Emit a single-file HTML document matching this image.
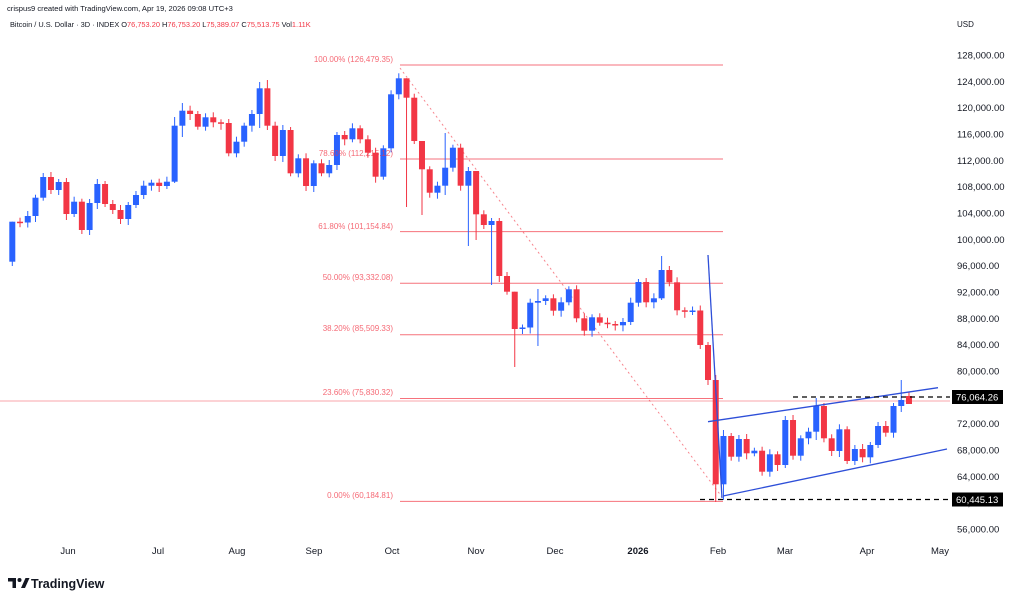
<!DOCTYPE html>
<html><head><meta charset="utf-8">
<style>
html,body{margin:0;padding:0;background:#fff;width:1018px;height:600px;overflow:hidden;font-family:"Liberation Sans",sans-serif;}
svg{position:absolute;left:0;top:0}
</style></head><body>
<svg id="s" width="1018" height="600" xmlns="http://www.w3.org/2000/svg" font-family="Liberation Sans, sans-serif">
<text x="7" y="11" font-size="7.6" fill="#131722">crispus9 created with TradingView.com, Apr 19, 2026 09:08 UTC+3</text>
<text x="10" y="27" font-size="7.4" fill="#131722">Bitcoin / U.S. Dollar · 3D · INDEX  O<tspan fill="#f23645">76,753.20</tspan>  H<tspan fill="#f23645">76,753.20</tspan>  L<tspan fill="#f23645">75,389.07</tspan>  C<tspan fill="#f23645">75,513.75</tspan>  Vol<tspan fill="#f23645">1.11K</tspan></text>
<text x="957" y="27" font-size="8" fill="#131722">USD</text>
<g id="g"></g>
<g font-size="8" fill="#f23645" fill-opacity="0.75" text-anchor="end">
<text x="393" y="62">100.00% (126,479.35)</text>
<text x="393" y="156">78.60% (112,215.12)</text>
<text x="393" y="229">61.80% (101,154.84)</text>
<text x="393" y="280">50.00% (93,332.08)</text>
<text x="393" y="331">38.20% (85,509.33)</text>
<text x="393" y="395">23.60% (75,830.32)</text>
<text x="393" y="498">0.00% (60,184.81)</text>
</g>
<g font-size="9.5" fill="#131722" text-anchor="middle">
<text x="68" y="554">Jun</text><text x="158" y="554">Jul</text><text x="237" y="554">Aug</text>
<text x="314" y="554">Sep</text><text x="392" y="554">Oct</text><text x="476" y="554">Nov</text>
<text x="555" y="554">Dec</text><text x="638" y="554" font-weight="bold">2026</text>
<text x="718" y="554">Feb</text><text x="785" y="554">Mar</text><text x="867" y="554">Apr</text><text x="940" y="554">May</text>
</g>
<g transform="translate(8,577)">
<path d="M0 1h8v10h-3.5V4.5H0z" fill="#131722"/>
<circle cx="11.5" cy="3" r="2" fill="#131722"/>
<path d="M13 11l4.5-10h4l-4.5 10z" fill="#131722"/>
</g>
<text x="31" y="588" font-size="12.5" font-weight="bold" fill="#131722">TradingView</text>
</svg>
<script>
var g=document.getElementById('g'),h='';
function Y(p){return 55+(128000-p)/4000*26.33;}
for(var p=56000;p<=128000;p+=4000){var y=Y(p);
 h+='<text x="957" y="'+(y+3.5)+'" font-size="9.5" fill="#131722">'+(p/1000)+',000.00</text>';}
var fl=[65,159,231.6,283.2,334.7,398.5,501.4];
fl.forEach(function(y){h+='<line x1="400" x2="723" y1="'+y+'" y2="'+y+'" stroke="#f23645" stroke-opacity="0.7" stroke-width="1"/>';});
h+='<line x1="0" x2="950" y1="401" y2="401" stroke="#f23645" stroke-opacity="0.45" stroke-width="1"/>';
h+='<line x1="400" y1="68" x2="722" y2="497" stroke="#f23645" stroke-opacity="0.6" stroke-dasharray="2,3"/>';
var C=[221.7,222.5,216,197.7,177,190,182,214,201.7,230,203,184,204,210,219,205,195,185.7,182.7,186,181.7,125.7,110.7,114,126.7,117.3,122.3,123,153.3,141.7,125.7,114,88.3,125.7,156,130,173.3,158.3,186,163.3,173.3,165,135,139.3,128.3,139.3,152.7,176.7,148.3,94.3,78.3,97.7,141,169.3,192.7,185.7,167.7,147.7,185.7,171,214.3,225,221,276,291.7,329,327.5,302.7,301,298.3,310.7,302.3,289.3,318.3,330.7,317.3,322.7,324,325.3,322,302.7,282,302.3,298.3,270,282.3,310.3,311.7,310.5,345,380,484.3,436,456.7,439,453.3,450.7,471.7,454.3,465,420,455.7,438.3,431.7,406,438.3,451,429.3,461,449,457.3,445,426,432.7,406,400,404];
var O=[261.7];for(var i=1;i<C.length;i++)O.push(C[i-1]);
O[C.length-1]=396;
var wk={0:[258,266],21:[117,183],22:[103,137],32:[82,128],33:[80,130],51:[92,207],53:[160,215],56:[133,195],59:[167,246],60:[212,240],62:[218,285],65:[318,367],68:[289,346],84:[256,300],91:[375,502],92:[430,500],104:[398,440],115:[380,412],116:[392,404]};
for(var i=0;i<C.length;i++){
 var x=12.3+i*7.73,o=O[i],c=C[i],up=c<o,col=up?'#2962ff':'#f23645';
 var t=Math.min(o,c),b=Math.max(o,c);if(b-t<1.5){b=t+1.5;}
 var hi=t-3-(i%3),lo=b+3+(i%4);if(wk[i]){hi=Math.min(wk[i][0],t);lo=Math.max(wk[i][1],b);}
 h+='<line x1="'+x+'" x2="'+x+'" y1="'+hi+'" y2="'+lo+'" stroke="'+col+'" stroke-width="1"/>';
 h+='<rect x="'+(x-3)+'" y="'+t+'" width="6" height="'+(b-t)+'" fill="'+col+'"/>';
}
h+='<line x1="708" y1="255" x2="722" y2="498" stroke="#2e4fd8" stroke-width="1.3"/>';
h+='<line x1="708" y1="421.7" x2="938" y2="387.7" stroke="#2e4fd8" stroke-width="1.3"/>';
h+='<line x1="723" y1="496" x2="947" y2="449" stroke="#2e4fd8" stroke-width="1.3"/>';
h+='<line x1="793" x2="950" y1="397" y2="397" stroke="#000" stroke-width="1.3" stroke-dasharray="5,4"/>';
h+='<line x1="700" x2="950" y1="499.5" y2="499.5" stroke="#000" stroke-width="1.3" stroke-dasharray="5,4"/>';
h+='<rect x="952" y="390" width="51" height="14" fill="#000"/><text x="956" y="400.5" font-size="9.5" fill="#fff">76,064.26</text>';
h+='<rect x="952" y="492.5" width="51" height="14" fill="#000"/><text x="956" y="503" font-size="9.5" fill="#fff">60,445.13</text>';
g.innerHTML=h;
</script>
</body></html>
